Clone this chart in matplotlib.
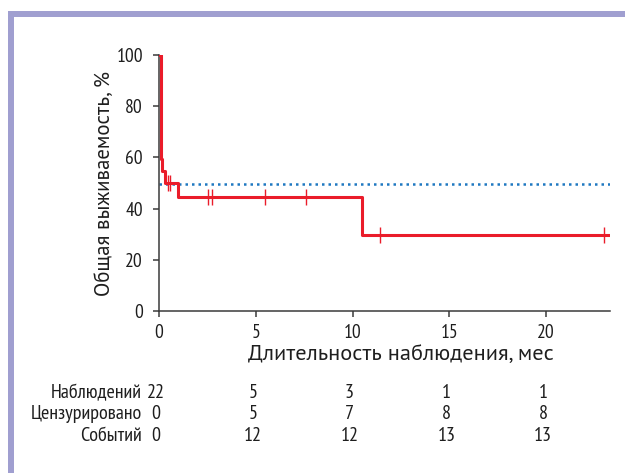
import matplotlib
matplotlib.use("Agg")
import matplotlib.pyplot as plt
from matplotlib.patches import Rectangle

plt.rcParams['font.family'] = ['PT Sans Narrow', 'DejaVu Sans']

# --- data ---
step_times = [0, 0.08, 0.15, 0.3, 0.97, 10.5, 23.3]
survival = [100, 59.5, 54.5, 50, 44.5, 29.7, 29.7]

censor_times = [0.45, 0.57, 2.55, 2.72, 5.5, 7.6, 11.4, 23.0]
censor_surv = [50, 50, 44.5, 44.5, 44.5, 44.5, 29.7, 29.7]

median_level = 49.5
x_end = 23.3

risk_times = [0, 5, 10, 15, 20]
row_labels = ['Наблюдений', 'Цензурировано', 'Событий']
at_risk = [22, 5, 3, 1, 1]
censored = [0, 5, 7, 8, 8]
events = [0, 12, 12, 13, 13]

RED = '#ea1c2a'
BLUE = '#1f78c1'
AXC = '#3a3a3a'
FRAME = '#a09fd0'
TXT = '#1e1e1e'

W, H = 625, 473
fig = plt.figure(figsize=(W / 100, H / 100), dpi=100)

# lavender L-shaped frame (top and left)
fig.add_artist(Rectangle((8 / W, 0), 5.5 / W, 1 - 11 / H, transform=fig.transFigure,
                         color=FRAME, lw=0))
fig.add_artist(Rectangle((8 / W, 1 - 17 / H), 1, 6 / H, transform=fig.transFigure,
                         color=FRAME, lw=0))

ax = fig.add_axes([159 / W, 162 / H, (610 - 159) / W, (311 - 55) / H])

ax.plot([0, x_end], [median_level, median_level], color=BLUE, lw=1.8,
        linestyle=(0, (1, 1.6)), zorder=2)
ax.step(step_times, survival, where='post', color=RED, lw=2.2, zorder=3)
ax.plot(censor_times, censor_surv, linestyle='none', marker='|', markersize=11,
        markeredgewidth=1.0, color=RED, zorder=4)

ax.set_xlim(0, x_end)
ax.set_ylim(0, 100)
ax.set_xticks([0, 5, 10, 15, 20])
ax.set_yticks([0, 20, 40, 60, 80, 100])
for s in ['top', 'right']:
    ax.spines[s].set_visible(False)
for s in ['left', 'bottom']:
    ax.spines[s].set_color(AXC)
    ax.spines[s].set_linewidth(1.1)
ax.tick_params(direction='out', length=4.5, width=1.1, color=AXC, labelsize=14,
               labelcolor=TXT)
ax.tick_params(axis='y', pad=7)
ax.tick_params(axis='x', pad=5)
ax.set_xlabel('Длительность наблюдения, мес', fontsize=16, color=TXT, labelpad=2,
              family=['PT Sans', 'DejaVu Sans'])
ax.xaxis.label.set_x(0.537)  # label sits a bit right of the axis centre
ax.set_ylabel('Общая выживаемость, %', fontsize=15, color=TXT, labelpad=1.5,
              family=['PT Sans', 'DejaVu Sans'])

# number-at-risk table
rows = [at_risk, censored, events]
row_y = [393, 414, 436]
for label, vals, yp in zip(row_labels, rows, row_y):
    yf = 1 - yp / H
    fig.text(142 / W, yf, label, ha='right', va='center', fontsize=14.5, color=TXT)
    for t, v in zip(risk_times, vals):
        xd = ax.transData.transform((t, 0))[0]
        xf = fig.transFigure.inverted().transform((xd, 0))[0]
        fig.text(xf - 3 / W, yf, str(v), ha='center', va='center', fontsize=14.5, color=TXT)

fig.savefig('out.png', dpi=100)
